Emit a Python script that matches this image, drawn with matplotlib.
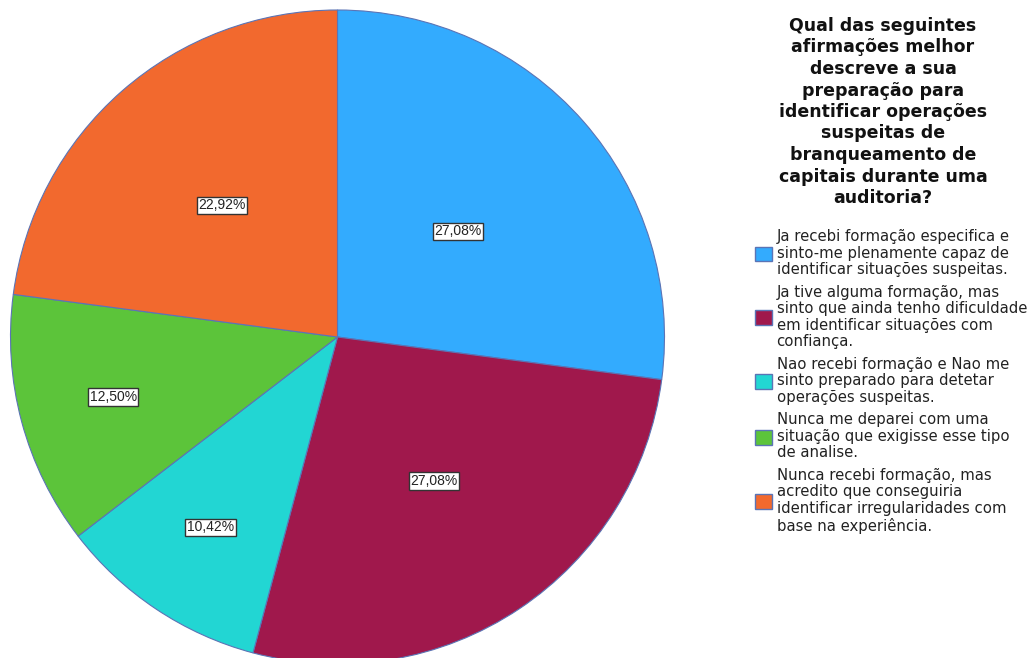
import numpy as np
import matplotlib.pyplot as plt
from matplotlib.patches import Patch

categorias = [
    "Ja recebi formação especifica e\nsinto-me plenamente capaz de\nidentificar situações suspeitas.",
    "Ja tive alguma formação, mas\nsinto que ainda tenho dificuldade\nem identificar situações com\nconfiança.",
    "Nao recebi formação e Nao me\nsinto preparado para detetar\noperações suspeitas.",
    "Nunca me deparei com uma\nsituação que exigisse esse tipo\nde analise.",
    "Nunca recebi formação, mas\nacredito que conseguiria\nidentificar irregularidades com\nbase na experiência.",
]
percentagens = [27.08, 27.08, 10.42, 12.50, 22.92]
cores = ["#33abfe", "#a0184c", "#22d6d3", "#5cc43a", "#f2692e"]
titulo = ("Qual das seguintes\nafirmações melhor\ndescreve a sua\npreparação para\n"
          "identificar operações\nsuspeitas de\nbranqueamento de\ncapitais durante uma\nauditoria?")

# distancia de cada rotulo ao centro (fracao do raio)
dist_rotulo = [0.49, 0.53, 0.70, 0.71, 0.535]

plt.rcParams['font.family'] = ['Liberation Sans', 'DejaVu Sans']

W, H = 1031, 658
fig = plt.figure(figsize=(W / 100, H / 100), dpi=100)

cx, cy, r = 337.5, 337, 327
ax = fig.add_axes([(cx - r) / W, (H - cy - r) / H, 2 * r / W, 2 * r / H])
wedges, _ = ax.pie(percentagens, colors=cores, startangle=90, counterclock=False,
                   radius=1, wedgeprops=dict(edgecolor="#5b74b5", linewidth=0.8))
ax.set_xlim(-1, 1)
ax.set_ylim(-1, 1)
ax.set_aspect('equal')
ax.axis('off')

for w, p, d in zip(wedges, percentagens, dist_rotulo):
    ang = np.deg2rad((w.theta1 + w.theta2) / 2)
    ax.text(d * np.cos(ang), d * np.sin(ang), f"{p:.2f}%".replace('.', ','),
            ha='center', va='center', fontsize=10, color='#222222',
            bbox=dict(boxstyle='square,pad=0.12', fc='white', ec='#333333', lw=1.0))

fig.text(883 / W, 1 - 17 / H, titulo, ha='center', va='top', fontsize=12.5,
         fontweight='bold', linespacing=1.25, color='#111111', family='DejaVu Sans')

handles = [Patch(facecolor=c, edgecolor="#5b74b5", linewidth=1.0) for c in cores]
leg = fig.legend(handles, categorias, loc='upper left', bbox_to_anchor=(755 / W, 1 - 229 / H),
                 frameon=False, prop={'family': 'DejaVu Sans', 'size': 10.7},
                 handlelength=1.15, handleheight=1.15,
                 handletextpad=0.3, labelspacing=0.5, borderpad=0, borderaxespad=0)
for t in leg.get_texts():
    t.set_linespacing(1.13)
    t.set_color('#222222')

fig.savefig('out.png', dpi=100)
